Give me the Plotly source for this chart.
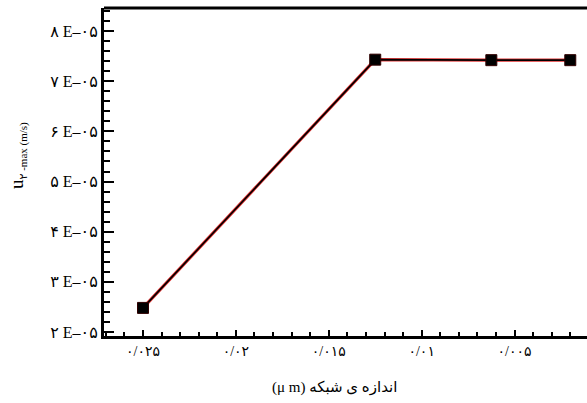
import plotly.graph_objects as go

# Data
mesh_size = [0.025, 0.0125, 0.00625, 0.002]
u2_max = [2.48e-05, 7.43e-05, 7.42e-05, 7.42e-05]

x_tickvals = [0.025, 0.02, 0.015, 0.01, 0.005]
x_ticktext = ["۰/۰۲۵", "۰/۰۲", "۰/۰۱۵", "۰/۰۱", "۰/۰۰۵"]
y_tickvals = [2e-05, 3e-05, 4e-05, 5e-05, 6e-05, 7e-05, 8e-05]
y_ticktext = ["۲ E–۰۵", "۳ E–۰۵", "۴ E–۰۵", "۵ E–۰۵", "۶ E–۰۵", "۷ E–۰۵", "۸ E–۰۵"]

x_title = "(μ m) اندازه ی شبکه"
y_title = "u<sub><span style='font-size:11px'>۲ -max (m/s)</span></sub>"

fig = go.Figure()
fig.add_trace(go.Scatter(x=mesh_size, y=u2_max, mode="lines",
                         line=dict(color="#e03030", width=3.2), showlegend=False))
fig.add_trace(go.Scatter(x=mesh_size, y=u2_max, mode="lines+markers",
                         line=dict(color="black", width=1.6),
                         marker=dict(symbol="square", size=11, color="black",
                                     line=dict(color="#300000", width=1)),
                         showlegend=False))

serif = "Liberation Serif, DejaVu Sans, serif"

fig.update_layout(
    width=587, height=403,
    margin=dict(l=104, r=0, t=8, b=67),
    paper_bgcolor="white", plot_bgcolor="white",
    font=dict(family=serif, color="black"),
    xaxis=dict(
        range=[0.0271, 0.0011],
        tickmode="array", tickvals=x_tickvals, ticktext=x_ticktext,
        ticks="inside", ticklen=6, tickwidth=2, tickcolor="black",
        showline=True, linewidth=3, linecolor="black",
        showgrid=False, zeroline=False,
        tickfont=dict(size=14, family=serif),
        minor=dict(dtick=0.001, tick0=0, ticks="inside", ticklen=4,
                   tickwidth=2, tickcolor="black", showgrid=False),
    ),
    yaxis=dict(
        range=[1.92e-05, 8.46e-05],
        tickmode="array", tickvals=y_tickvals, ticktext=y_ticktext,
        ticks="inside", ticklen=10, tickwidth=2, tickcolor="black",
        showline=True, linewidth=3, linecolor="black",
        showgrid=False, zeroline=False,
        tickfont=dict(size=16, family=serif),
        minor=dict(dtick=2e-06, tick0=0, ticks="inside", ticklen=6,
                   tickwidth=2, tickcolor="black", showgrid=False),
    ),
    shapes=[dict(type="line", xref="paper", yref="paper", x0=0, x1=1, y0=1, y1=1,
                 line=dict(color="black", width=3))],
    annotations=[
        dict(text=x_title, xref="paper", yref="paper", x=0.478, y=-0.1585,
             xanchor="center", yanchor="middle", showarrow=False,
             font=dict(size=15, family=serif)),
        dict(text=y_title, xref="paper", yref="paper", x=-0.178, y=0.549,
             xanchor="center", yanchor="middle", textangle=-90, showarrow=False,
             font=dict(size=19, family=serif)),
    ],
)

fig.write_html("out.html")
